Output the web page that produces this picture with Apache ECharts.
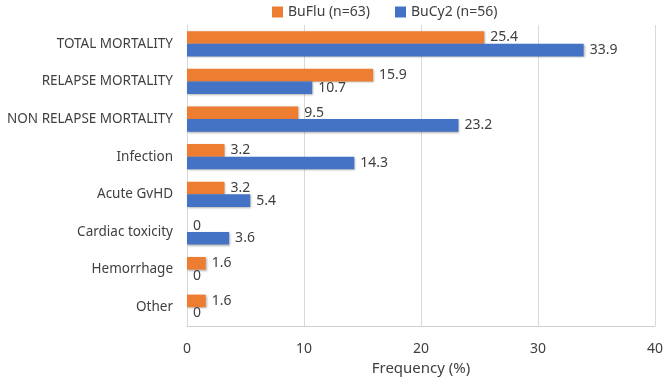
<!DOCTYPE html>
<html>
<head>
<meta charset="utf-8">
<script src="https://cdn.jsdelivr.net/npm/echarts@6/dist/echarts.min.js"></script>
<style>
  html, body { margin: 0; padding: 0; background: #fff; }
  #chart { width: 666px; height: 377px; }
</style>
</head>
<body>
<div id="chart"></div>
<script>
const categories = ["TOTAL MORTALITY", "RELAPSE MORTALITY", "NON RELAPSE MORTALITY", "Infection", "Acute GvHD", "Cardiac toxicity", "Hemorrhage", "Other"];
const buFlu = [25.4, 15.9, 9.5, 3.2, 3.2, 0, 1.6, 1.6];
const buCy2 = [33.9, 10.7, 23.2, 14.3, 5.4, 3.6, 0, 0];
const seriesNames = ["BuFlu (n=63)", "BuCy2 (n=56)"];

const textColor = "#404040";
const font = "'Noto Sans', sans-serif";

const chart = echarts.init(document.getElementById("chart"));

const barStyle = (color) => ({
  color: color,
  shadowColor: "rgba(0,0,0,0.3)",
  shadowBlur: 2,
  shadowOffsetX: 1,
  shadowOffsetY: 1
});

const label = {
  show: true,
  position: "right",
  distance: 6,
  color: textColor,
  fontFamily: font,
  fontSize: 14
};

chart.setOption({
  animation: false,
  textStyle: { fontFamily: font },
  legend: {
    top: 0,
    left: 267,
    itemWidth: 11,
    itemHeight: 11,
    itemGap: 25,
    icon: "rect",
    textStyle: { color: textColor, fontSize: 14, fontFamily: font }
  },
  grid: { left: 187, right: 11, top: 25, bottom: 51, outerBoundsMode: "none" },
  xAxis: {
    type: "value",
    min: 0,
    max: 40,
    interval: 10,
    name: "Frequency (%)",
    nameLocation: "middle",
    nameGap: 35,
    nameTextStyle: { color: textColor, fontSize: 15, fontFamily: font },
    axisLine: { show: true, lineStyle: { color: "#d0d0d0", width: 1 } },
    axisTick: { show: false },
    axisLabel: { color: textColor, fontSize: 14, margin: 16 },
    splitLine: { show: true, lineStyle: { color: "#d9d9d9" } }
  },
  yAxis: {
    type: "category",
    data: categories,
    inverse: true,
    axisLine: { show: true, lineStyle: { color: "#d9d9d9" } },
    axisTick: { show: false },
    axisLabel: { color: textColor, fontSize: 13.5, margin: 14 }
  },
  series: [
    {
      name: seriesNames[0],
      type: "bar",
      data: buFlu,
      barGap: "0%",
      barCategoryGap: "33%",
      itemStyle: barStyle("#ED7D31"),
      label: label
    },
    {
      name: seriesNames[1],
      type: "bar",
      data: buCy2,
      barGap: "0%",
      barCategoryGap: "33%",
      itemStyle: barStyle("#4472C4"),
      label: label
    }
  ]
});
</script>
</body>
</html>
